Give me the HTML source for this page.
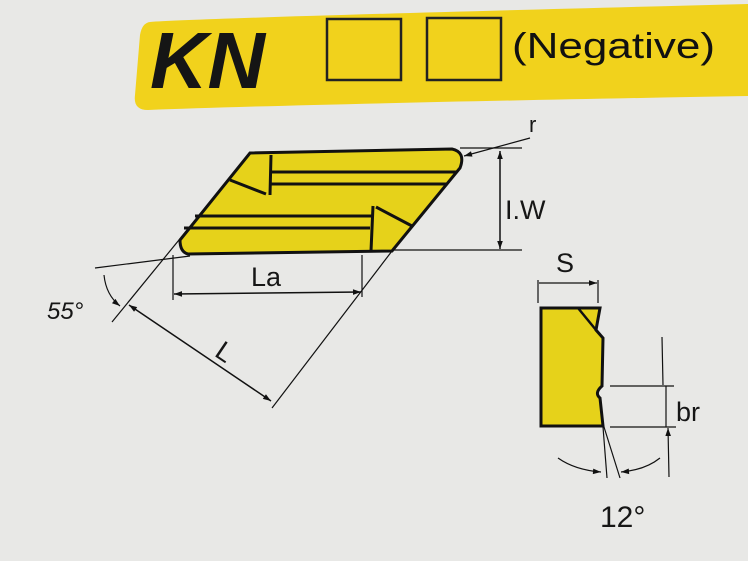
<!DOCTYPE html>
<html><head><style>
body{margin:0;width:748px;height:556px;background:#e8e8e6;overflow:hidden;font-family:"Liberation Sans",sans-serif}
</style></head><body>
<svg width="748" height="556" viewBox="0 0 748 556" xmlns="http://www.w3.org/2000/svg" font-family="Liberation Sans, sans-serif">
<defs>
<marker id="a" viewBox="0 0 10 10" refX="10" refY="5" markerWidth="12" markerHeight="8" markerUnits="userSpaceOnUse" orient="auto-start-reverse"><path d="M0,1.5L10,5L0,8.5z" fill="#111"/></marker>
</defs>
<path d="M150,22 Q200,18 748,4 L748,96 Q300,104 148,110 Q133,110 135,95 L140,35 Q142,23 150,22z" fill="#f1d21c"/>
<text x="150" y="88" font-size="80" font-weight="bold" font-style="italic" fill="#151515" textLength="115" lengthAdjust="spacingAndGlyphs">KN</text>
<rect x="327" y="19" width="74" height="61" fill="none" stroke="#222" stroke-width="2.5"/>
<rect x="427" y="18" width="74" height="62" fill="none" stroke="#222" stroke-width="2.5"/>
<text x="512" y="58" font-size="36" fill="#111" textLength="203" lengthAdjust="spacingAndGlyphs">(Negative)</text>

<g stroke="#111" fill="none">
<path d="M250,153 L452,149 Q466,152 460,168 L392,251 L188,254 Q180,252 180,240 L250,153z" fill="#e6d21a" stroke-width="3"/>
<path d="M271,155 L270,195 M230,180 L266,194 M270,172 L456,172 M270,184 L446,184 M195,216 L372,216 M184,228 L370,228 M373,206 L371,251 M376,207 L412,226" stroke-width="3"/>
<path d="M392,250 L522,250 M460,148 L522,148" stroke-width="1.2"/>
<path d="M500,151 L500,249" stroke-width="1.5" marker-start="url(#a)" marker-end="url(#a)"/>
<path d="M530,138 L464,156" stroke-width="1.2" marker-end="url(#a)"/>
<path d="M95,268 L190,256" stroke-width="1.2"/>
<path d="M250,153 L112,322" stroke-width="1.2"/>
<path d="M104,275 Q106,295 120,306" stroke-width="1.2" marker-end="url(#a)"/>
<path d="M173,255 L173,300 M362,255 L362,297" stroke-width="1.2"/>
<path d="M174,294 L361,292" stroke-width="1.5" marker-start="url(#a)" marker-end="url(#a)"/>
<path d="M392,251 L272,408" stroke-width="1.2"/>
<path d="M129,305 L271,401" stroke-width="1.5" marker-start="url(#a)" marker-end="url(#a)"/>

<path d="M541,308 L600,308 L596,330 L603,338 L602,386 Q594,393 600,398 L603,426 L541,426z" fill="#e6d21a" stroke-width="3"/>
<path d="M578,308 L596,330" stroke-width="2.5"/>
<path d="M538,280 L538,303 M598,280 L598,303" stroke-width="1.2"/>
<path d="M568,283 L539,283 M568,283 L597,283" stroke-width="1.2" marker-end="url(#a)"/>
<path d="M610,386 L674,386 M610,427 L676,427" stroke-width="1.2"/>
<path d="M662,337 L663,385 M669,477 L668,428" stroke-width="1.2" marker-end="url(#a)"/>
<path d="M666,386 L666,427" stroke-width="1.2"/>
<path d="M603,427 L607,478 M604,427 L620,478" stroke-width="1.2"/>
<path d="M558,458 Q575,470 601,472" stroke-width="1.2" marker-end="url(#a)"/>
<path d="M660,458 Q645,470 621,472" stroke-width="1.2" marker-end="url(#a)"/>
</g>
<g fill="#161616">
<text x="529" y="132" font-size="22">r</text>
<text x="505" y="219" font-size="27">I.W</text>
<text x="47" y="319" font-size="24" font-style="italic">55°</text>
<text x="251" y="286" font-size="27">La</text>
<text x="218" y="364" font-size="27" transform="rotate(34 230 352)">L</text>
<text x="556" y="272" font-size="27">S</text>
<text x="676" y="421" font-size="27">br</text>
<text x="600" y="527" font-size="30">12°</text>
</g>
</svg>
</body></html>
